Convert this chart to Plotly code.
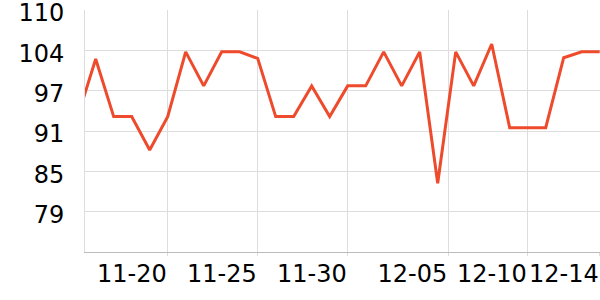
import plotly.graph_objects as go
import pandas as pd

dates = pd.date_range("2023-11-15", "2023-12-14", freq="D")
values = [93.7, 102.5, 93.7, 93.7, 88.6, 93.7, 103.6, 98.4, 103.6, 103.6,
          102.6, 93.7, 93.7, 98.4, 93.7, 98.4, 98.4, 103.6, 98.4, 103.6,
          83.5, 103.6, 98.4, 104.8, 92.0, 92.0, 92.0, 102.7, 103.6, 103.6]

x_tick_vals = ["2023-11-20", "2023-11-25", "2023-11-30", "2023-12-05 14:00",
               "2023-12-10", "2023-12-14"]
x_tick_text = ["11-20", "11-25", "11-30", "12-05", "12-10", "12-14"]

y_min, y_max = 73, 110
y_tick_text = ["79", "85", "91", "97", "104", "110"]
y_tick_vals = [y_min + (y_max - y_min) * k / 6 - (0.001 if k == 6 else 0)
               for k in range(1, 7)]

fig = go.Figure()
fig.add_trace(go.Scatter(
    x=dates, y=values, mode="lines",
    line=dict(color="#EE4A2C", width=3),
    hoverinfo="skip",
))

fig.update_layout(
    width=600, height=300,
    margin=dict(l=85, r=0, t=10, b=48),
    paper_bgcolor="white", plot_bgcolor="white",
    showlegend=False,
    font=dict(family="DejaVu Sans", size=24, color="#000"),
)
fig.update_xaxes(
    type="date", automargin=False,
    range=["2023-11-15 09:45", "2023-12-14 00:24"],
    tickvals=x_tick_vals, ticktext=x_tick_text,
    ticklabelposition="outside left", tickangle=0,
    ticklabeloverflow="allow",
    showgrid=True, gridcolor="#dddddd", gridwidth=1,
    showline=True, linecolor="#bbbbbb", linewidth=1,
    ticks="outside", ticklen=3, tickcolor="#dddddd",
    zeroline=False,
    tickfont=dict(size=24),
)
fig.update_yaxes(
    range=[y_min, y_max], automargin=False,
    tickvals=y_tick_vals, ticktext=y_tick_text,
    showgrid=True, gridcolor="#dddddd", gridwidth=1,
    showline=True, linecolor="#dddddd", linewidth=1,
    zeroline=False, ticks="", ticklabelstandoff=15,
    ticklabelshift=3,
    ticklabeloverflow="allow",
    tickfont=dict(size=24),
)

fig.write_html("out.html")
